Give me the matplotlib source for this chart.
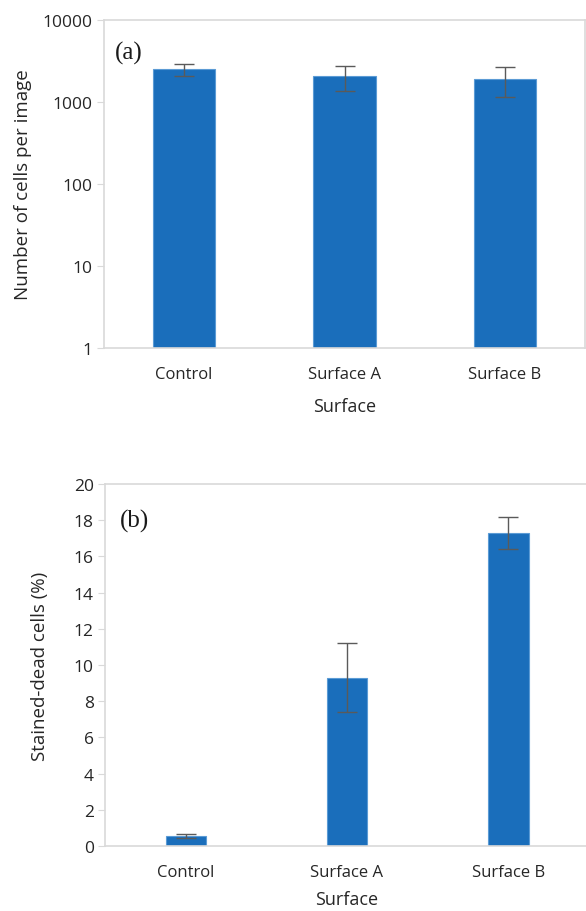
import numpy as np
import matplotlib
matplotlib.use("Agg")
import matplotlib.pyplot as plt

plt.rcParams['font.family'] = ['Open Sans', 'DejaVu Sans']

surfaces = ['Control', 'Surface A', 'Surface B']
cells = [2500, 2050, 1900]
cells_err = [420, 700, 760]
dead = [0.55, 9.3, 17.3]
dead_err = [0.1, 1.9, 0.9]

bar_color = '#1a6ebb'
edge_color = '#5b9bd5'
spine_color = '#d9d9d9'
text_color = '#262626'

W, H = 586, 912
fig = plt.figure(figsize=(W / 100, H / 100), dpi=100)


def style_axes(ax, show_right=True):
    for side in ['left', 'top', 'right', 'bottom']:
        ax.spines[side].set_color(spine_color)
        ax.spines[side].set_linewidth(1.2)
    ax.spines['right'].set_visible(show_right)
    ax.tick_params(axis='y', length=5, color=spine_color, labelsize=12.5,
                   labelcolor=text_color, pad=3)
    ax.tick_params(axis='x', length=0, labelsize=12, labelcolor=text_color, pad=13)


# (a) number of cells, log scale
ax1 = fig.add_axes([104 / W, 1 - 349 / H, 481 / W, 328 / H])
x = np.arange(len(surfaces))
ax1.bar(x, cells, width=0.39, color=bar_color, edgecolor=edge_color, linewidth=0.8,
        yerr=cells_err, capsize=7,
        error_kw=dict(ecolor='#5a5a5a', elinewidth=1, capthick=1))
ax1.set_yscale('log')
ax1.set_ylim(1, 10000)
ax1.set_xlim(-0.5, 2.5)
ax1.set_yticks([1, 10, 100, 1000, 10000])
ax1.set_yticklabels(['1', '10', '100', '1000', '10000'])
ax1.minorticks_off()
ax1.set_xticks(x)
ax1.set_xticklabels(surfaces)
ax1.set_ylabel('Number of cells per image', fontsize=13.5, color=text_color, labelpad=8)
ax1.set_xlabel('Surface', fontsize=13, color=text_color, labelpad=11)
style_axes(ax1)
ax1.text(0.022, 0.9, '(a)', transform=ax1.transAxes, fontsize=18,
         family='Liberation Serif', color='#1a1a1a', va='center')

# (b) stained-dead cells
ax2 = fig.add_axes([105 / W, 1 - 847 / H, 484 / W, 362 / H])
ax2.bar(x, dead, width=0.25, color=bar_color, edgecolor=edge_color, linewidth=0.8,
        yerr=dead_err, capsize=7.5,
        error_kw=dict(ecolor='#5a5a5a', elinewidth=1, capthick=1))
ax2.set_ylim(0, 20)
ax2.set_xlim(-0.5, 2.5)
ax2.set_yticks(np.arange(0, 21, 2))
ax2.set_xticks(x)
ax2.set_xticklabels(surfaces)
ax2.set_ylabel('Stained-dead cells (%)', fontsize=13.5, color=text_color, labelpad=18)
ax2.set_xlabel('Surface', fontsize=13, color=text_color, labelpad=7)
style_axes(ax2, show_right=False)
ax2.text(0.03, 0.9, '(b)', transform=ax2.transAxes, fontsize=18,
         family='Liberation Serif', color='#1a1a1a', va='center')

fig.savefig('out.png', dpi=100)
